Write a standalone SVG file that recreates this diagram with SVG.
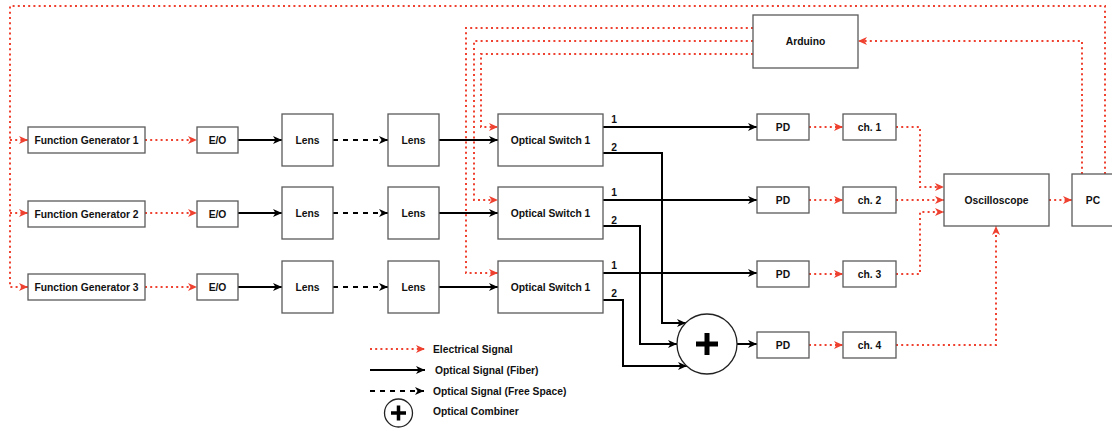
<svg xmlns="http://www.w3.org/2000/svg" width="1112" height="431" viewBox="0 0 1112 431">
<style>
.box{fill:#fff;stroke:#5a5a5a;stroke-width:1.3}
.t{font-family:"Liberation Sans",Arial,sans-serif;font-weight:bold;font-size:10.3px;fill:#111;text-anchor:middle;dominant-baseline:central}
.tl{font-family:"Liberation Sans",Arial,sans-serif;font-weight:bold;font-size:10.3px;fill:#111;text-anchor:start;dominant-baseline:central}
.el{fill:none;stroke:#ef4130;stroke-width:2;stroke-dasharray:2 3.2;marker-end:url(#ra)}
.elnm{fill:none;stroke:#ef4130;stroke-width:2;stroke-dasharray:2 3.2}
.fi{fill:none;stroke:#000;stroke-width:2;marker-end:url(#ba)}
.fs{fill:none;stroke:#000;stroke-width:2;stroke-dasharray:5 5;marker-end:url(#ba)}
</style>
<defs>
<marker id="ra" markerUnits="userSpaceOnUse" markerWidth="10" markerHeight="10" refX="9" refY="5" orient="auto" overflow="visible">
<path d="M0,1 L9,5 L0,9 L2.5,5 Z" fill="#ef4130"/>
</marker>
<marker id="ba" markerUnits="userSpaceOnUse" markerWidth="10" markerHeight="10" refX="9" refY="5" orient="auto" overflow="visible">
<path d="M0,1 L9,5 L0,9 L2.5,5 Z" fill="#000"/>
</marker>
</defs>
<rect width="1112" height="431" fill="#fff"/>

<g id="connectors">
<!-- PC to function generators -->
<path class="el" d="M1105,174 V6 H10 V287 H28"/>
<path class="el" d="M10,140 H28"/>
<path class="el" d="M10,213 H28"/>
<!-- PC to Arduino -->
<path class="el" d="M1082,174 V41 H858"/>
<!-- Arduino to switches -->
<path class="el" d="M753,54 H481 V127 H498"/>
<path class="el" d="M753,41 H474 V200 H498"/>
<path class="el" d="M753,28 H466 V273 H498"/>
<!-- FG to E/O -->
<path class="el" d="M145,140 H197"/>
<path class="el" d="M145,213 H197"/>
<path class="el" d="M145,287 H197"/>
<!-- E/O to Lens -->
<path class="fi" d="M238,140 H282"/>
<path class="fi" d="M238,213 H282"/>
<path class="fi" d="M238,287 H282"/>
<!-- Lens to Lens -->
<path class="fs" d="M333,140 H388"/>
<path class="fs" d="M333,213 H388"/>
<path class="fs" d="M333,287 H388"/>
<!-- Lens to Switch -->
<path class="fi" d="M439,140 H498"/>
<path class="fi" d="M439,213 H498"/>
<path class="fi" d="M439,287 H498"/>
<!-- Switch out 1 to PD -->
<path class="fi" d="M603,127 H757"/>
<path class="fi" d="M603,200 H757"/>
<path class="fi" d="M603,273 H757"/>
<!-- Switch out 2 to combiner -->
<path class="fi" d="M603,153 H662 V323 H686"/>
<path class="fi" d="M603,226 H640 V344 H677"/>
<path class="fi" d="M603,300 H623 V366 H687"/>
<!-- combiner to PD4 -->
<path class="fi" d="M737,344 H757"/>
<!-- PD to ch -->
<path class="el" d="M809,127 H843"/>
<path class="el" d="M809,200 H843"/>
<path class="el" d="M809,274 H843"/>
<path class="el" d="M809,345 H843"/>
<!-- ch to oscilloscope -->
<path class="el" d="M896,127 H920 V187 H944"/>
<path class="el" d="M896,200 H944"/>
<path class="el" d="M896,274 H920 V212 H944"/>
<path class="el" d="M896,345 H996 V226"/>
<!-- oscilloscope to PC -->
<path class="el" d="M1049,200 H1072"/>
</g>

<g id="fg1"><rect class="box" x="28" y="127" width="117" height="26"/><text class="t" x="86.5" y="140">Function Generator 1</text></g>
<g id="fg2"><rect class="box" x="28" y="201" width="117" height="26"/><text class="t" x="86.5" y="214">Function Generator 2</text></g>
<g id="fg3"><rect class="box" x="28" y="274" width="117" height="26"/><text class="t" x="86.5" y="287">Function Generator 3</text></g>

<g id="eo1"><rect class="box" x="197" y="127" width="41" height="26"/><text class="t" x="217.5" y="140">E/O</text></g>
<g id="eo2"><rect class="box" x="197" y="201" width="41" height="26"/><text class="t" x="217.5" y="214">E/O</text></g>
<g id="eo3"><rect class="box" x="197" y="274" width="41" height="26"/><text class="t" x="217.5" y="287">E/O</text></g>

<g id="lensA1"><rect class="box" x="282" y="114" width="51" height="52"/><text class="t" x="307.5" y="140">Lens</text></g>
<g id="lensA2"><rect class="box" x="282" y="187" width="51" height="52"/><text class="t" x="307.5" y="213">Lens</text></g>
<g id="lensA3"><rect class="box" x="282" y="261" width="51" height="52"/><text class="t" x="307.5" y="287">Lens</text></g>
<g id="lensB1"><rect class="box" x="388" y="114" width="51" height="52"/><text class="t" x="413.5" y="140">Lens</text></g>
<g id="lensB2"><rect class="box" x="388" y="187" width="51" height="52"/><text class="t" x="413.5" y="213">Lens</text></g>
<g id="lensB3"><rect class="box" x="388" y="261" width="51" height="52"/><text class="t" x="413.5" y="287">Lens</text></g>

<g id="sw1"><rect class="box" x="498" y="114" width="105" height="52"/><text class="t" x="550.5" y="140">Optical Switch 1</text><text class="t" x="614" y="119">1</text><text class="t" x="614" y="147">2</text></g>
<g id="sw2"><rect class="box" x="498" y="187" width="105" height="52"/><text class="t" x="550.5" y="213">Optical Switch 1</text><text class="t" x="614" y="192">1</text><text class="t" x="614" y="220">2</text></g>
<g id="sw3"><rect class="box" x="498" y="261" width="105" height="52"/><text class="t" x="550.5" y="287">Optical Switch 1</text><text class="t" x="614" y="265">1</text><text class="t" x="614" y="293">2</text></g>

<g id="arduino"><rect class="box" x="753" y="15" width="105" height="53"/><text class="t" x="805.5" y="41">Arduino</text></g>

<g id="combiner"><circle cx="707" cy="344" r="30" fill="#fff" stroke="#222" stroke-width="1.3"/><path d="M696,344 H718 M707,333 V355" stroke="#000" stroke-width="5"/></g>

<g id="pd1"><rect class="box" x="757" y="114" width="52" height="26"/><text class="t" x="783" y="127">PD</text></g>
<g id="pd2"><rect class="box" x="757" y="187" width="52" height="26"/><text class="t" x="783" y="200">PD</text></g>
<g id="pd3"><rect class="box" x="757" y="261" width="52" height="26"/><text class="t" x="783" y="274">PD</text></g>
<g id="pd4"><rect class="box" x="757" y="332" width="52" height="26"/><text class="t" x="783" y="345">PD</text></g>

<g id="ch1"><rect class="box" x="843" y="114" width="53" height="26"/><text class="t" x="869.5" y="127">ch. 1</text></g>
<g id="ch2"><rect class="box" x="843" y="187" width="53" height="26"/><text class="t" x="869.5" y="200">ch. 2</text></g>
<g id="ch3"><rect class="box" x="843" y="261" width="53" height="26"/><text class="t" x="869.5" y="274">ch. 3</text></g>
<g id="ch4"><rect class="box" x="843" y="332" width="53" height="26"/><text class="t" x="869.5" y="345">ch. 4</text></g>

<g id="osc"><rect class="box" x="944" y="174" width="105" height="52"/><text class="t" x="996.5" y="200">Oscilloscope</text></g>
<g id="pc"><rect class="box" x="1072" y="174" width="44" height="52"/><text class="t" x="1093" y="200">PC</text></g>

<g id="legend">
<path class="el" d="M370,349 H425"/>
<text class="tl" x="433" y="349">Electrical Signal</text>
<path class="fi" d="M370,370 H425"/>
<text class="tl" x="435" y="370">Optical Signal (Fiber)</text>
<path class="fs" d="M370,391 H424"/>
<text class="tl" x="433" y="391">Optical Signal (Free Space)</text>
<circle cx="398.5" cy="413" r="14" fill="#fff" stroke="#222" stroke-width="1.3"/>
<path d="M391,413 H406 M398.5,405.5 V420.5" stroke="#000" stroke-width="3.5"/>
<text class="tl" x="433" y="411">Optical Combiner</text>
</g>
</svg>
